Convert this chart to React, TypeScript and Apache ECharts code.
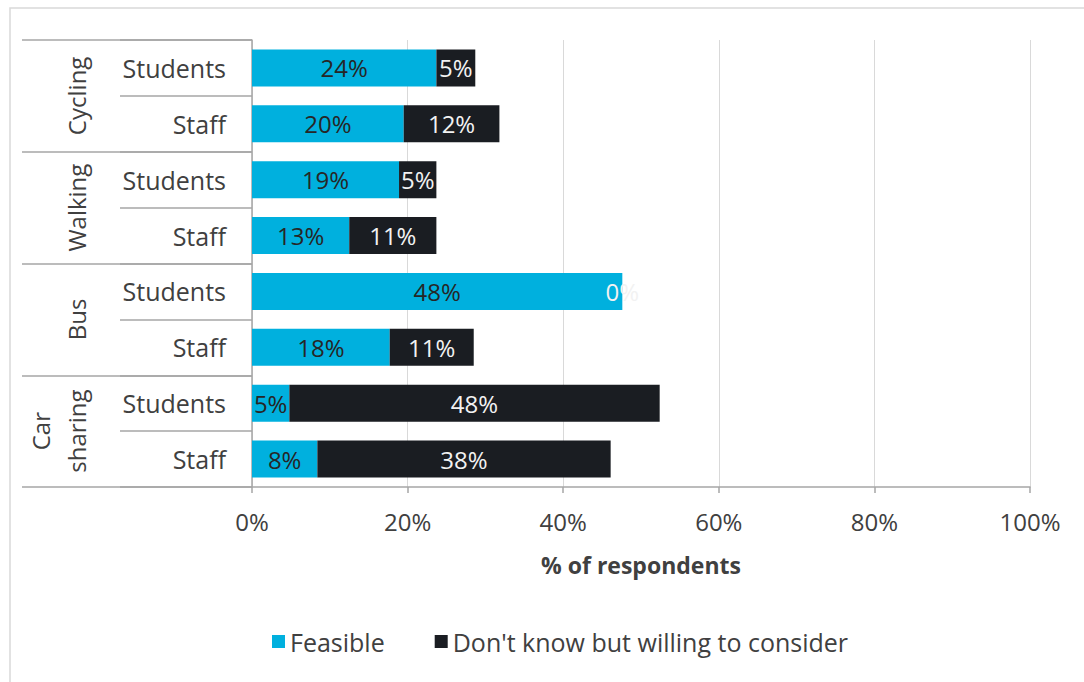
import React, { useEffect, useRef } from "react";
import * as echarts from "echarts";

const groups = ["Cycling", "Walking", "Bus", "Car\nsharing"];
const subCategories = ["Students", "Staff", "Students", "Staff", "Students", "Staff", "Students", "Staff"];
const feasible = [23.7, 19.5, 18.9, 12.5, 47.6, 17.7, 4.8, 8.4];
const willing = [5.0, 12.3, 4.8, 11.2, 0, 10.8, 47.6, 37.7];
const xTicks = [0, 20, 40, 60, 80, 100];

const FONT = "Open Sans";
const TEXT = "#404040";
const LINE = "#a6a6a6";
const FS = 24;

export default function App() {
  const ref = useRef<HTMLDivElement>(null);
  useEffect(() => {
    if (!ref.current) return;
    const chart = echarts.init(ref.current, null, { renderer: "svg" });
    const fmt = (p: any) => Math.round(p.value) + "%";
    chart.setOption({
      animation: false,
      textStyle: { fontFamily: FONT, color: TEXT },
      graphic: [
        {
          type: "rect",
          shape: { x: 10, y: 8, width: 1100, height: 700 },
          style: { fill: "none", stroke: "#d9d9d9", lineWidth: 1.5 },
        },
      ],
      legend: {
        left: 267,
        top: 624,
        itemWidth: 13,
        itemHeight: 13,
        itemGap: 50,
        icon: "rect",
        textStyle: { fontFamily: FONT, fontSize: 25, color: TEXT },
        data: ["Feasible", "Don't know but willing to consider"],
      },
      grid: { left: 252, right: 54, top: 40, bottom: 195 },
      xAxis: {
        type: "value",
        min: xTicks[0],
        max: xTicks[xTicks.length - 1],
        interval: 20,
        axisLine: { show: true, lineStyle: { color: LINE, width: 1.5 } },
        axisTick: { show: true, length: 6, lineStyle: { color: LINE, width: 1.5 } },
        splitLine: { show: true, lineStyle: { color: "#d9d9d9", width: 1 } },
        axisLabel: { formatter: "{value}%", fontSize: FS, color: TEXT, margin: 22, fontFamily: FONT },
        name: "% of respondents",
        nameLocation: "middle",
        nameGap: 66,
        nameTextStyle: { fontSize: 23, fontWeight: "bold", color: TEXT, fontFamily: FONT },
      },
      yAxis: [
        {
          type: "category",
          data: subCategories,
          inverse: true,
          position: "left",
          axisLine: { show: true, lineStyle: { color: LINE, width: 1.5 } },
          axisTick: { show: true, length: 132, interval: 0, lineStyle: { color: LINE, width: 1.5 } },
          axisLabel: { fontSize: 25, color: TEXT, margin: 26, interval: 0, fontFamily: FONT },
        },
        {
          type: "category",
          data: groups,
          inverse: true,
          position: "left",
          axisLine: { show: false },
          axisTick: { show: true, length: 230, interval: 0, lineStyle: { color: LINE, width: 1.5 } },
          axisLabel: {
            fontSize: FS,
            color: TEXT,
            margin: 158,
            rotate: 90,
            interval: 0,
            hideOverlap: false,
            lineHeight: 36,
            fontFamily: FONT,
          },
        },
      ],
      series: [
        {
          name: "Feasible",
          type: "bar",
          stack: "total",
          yAxisIndex: 0,
          barCategoryGap: "34%",
          data: feasible,
          itemStyle: { color: "#00b0de" },
          label: { show: true, position: "inside", formatter: fmt, fontSize: FS, color: "#262626", fontFamily: FONT },
        },
        {
          name: "Don't know but willing to consider",
          type: "bar",
          stack: "total",
          yAxisIndex: 0,
          data: willing,
          itemStyle: { color: "#1a1d22" },
          label: { show: true, position: "inside", formatter: fmt, fontSize: FS, color: "#f2f2f2", fontFamily: FONT },
        },
      ],
    });
    return () => chart.dispose();
  }, []);
  return (
    <div
      ref={ref}
      style={{ position: "fixed", left: 0, top: 0, width: 1084, height: 682, background: "#fff" }}
    />
  );
}
